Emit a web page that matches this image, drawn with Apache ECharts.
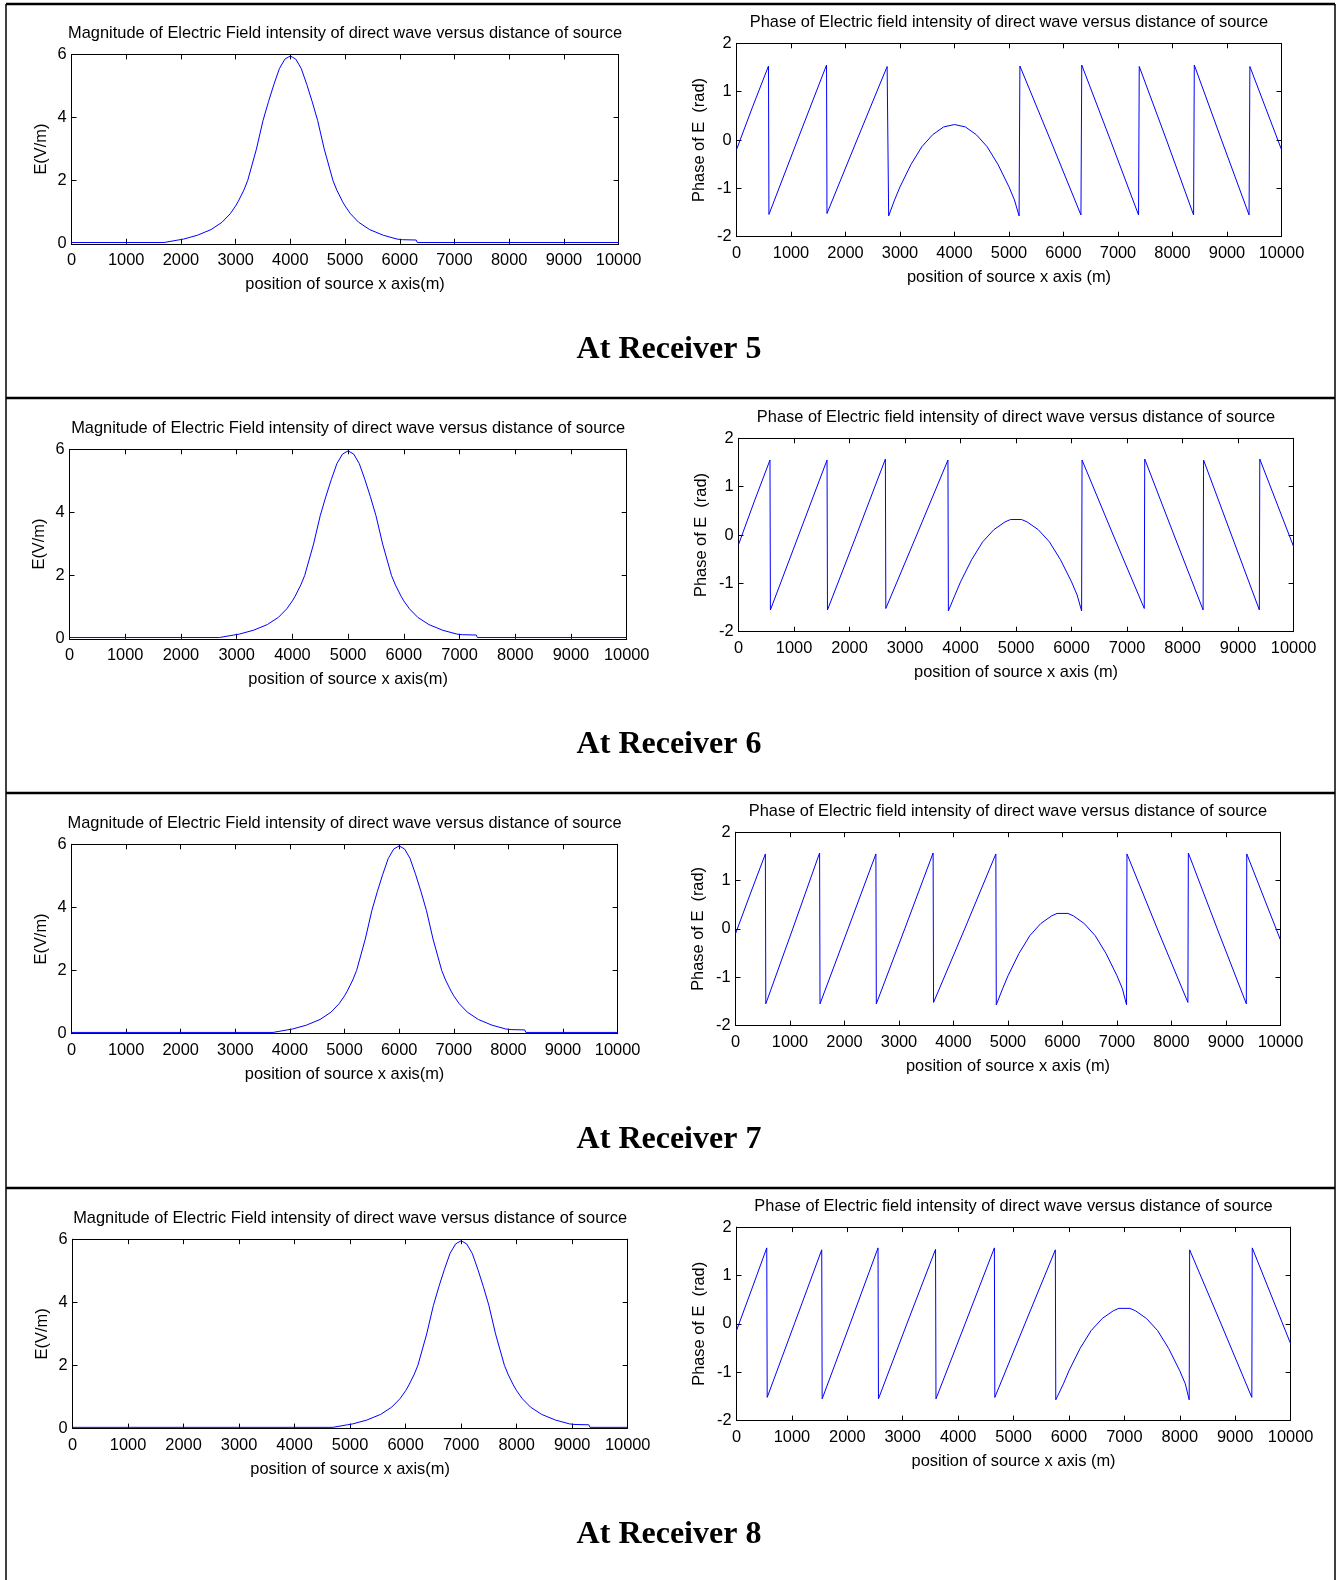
<!DOCTYPE html>
<html>
<head>
<meta charset="utf-8">
<script src="https://cdn.jsdelivr.net/npm/echarts@6/dist/echarts.min.js"></script>
<style>
html, body { margin: 0; padding: 0; background: #fff; }
#main { width: 1339px; height: 1580px; }
</style>
</head>
<body>
<div id="main"></div>
<script>
// receivers shown in the figure, one row each
var receivers = ['5', '6', '7', '8'];

// magnitude of E (V/m) against source position x (m)
var mag5 = [[0,0.04],[1690,0.04],[1710,0.1],[1950,0.12],[2050,0.15],[2300,0.27],[2550,0.45],[2750,0.68],[2900,0.95],[3000,1.2],[3050,1.35],[3150,1.7],[3220,2.0],[3380,3.0],[3500,3.9],[3600,4.5],[3700,5.05],[3800,5.55],[3900,5.85],[4000,5.95],[4100,5.85],[4200,5.55],[4300,5.05],[4400,4.5],[4500,3.9],[4620,3.0],[4780,2.0],[4850,1.7],[4950,1.35],[5000,1.2],[5100,0.95],[5250,0.68],[5450,0.45],[5700,0.27],[5950,0.15],[6050,0.13],[6300,0.12],[6320,0.04],[10000,0.04]];
var mag6 = [[0,0.04],[2690,0.04],[2710,0.1],[2950,0.12],[3050,0.15],[3300,0.27],[3550,0.45],[3750,0.68],[3900,0.95],[4000,1.2],[4050,1.35],[4150,1.7],[4220,2.0],[4380,3.0],[4500,3.9],[4600,4.5],[4700,5.05],[4800,5.55],[4900,5.85],[5000,5.95],[5100,5.85],[5200,5.55],[5300,5.05],[5400,4.5],[5500,3.9],[5620,3.0],[5780,2.0],[5850,1.7],[5950,1.35],[6000,1.2],[6100,0.95],[6250,0.68],[6450,0.45],[6700,0.27],[6950,0.15],[7050,0.13],[7300,0.12],[7320,0.04],[10000,0.04]];
var mag7 = [[0,0.04],[3690,0.04],[3710,0.1],[3950,0.12],[4050,0.15],[4300,0.27],[4550,0.45],[4750,0.68],[4900,0.95],[5000,1.2],[5050,1.35],[5150,1.7],[5220,2.0],[5380,3.0],[5500,3.9],[5600,4.5],[5700,5.05],[5800,5.55],[5900,5.85],[6000,5.95],[6100,5.85],[6200,5.55],[6300,5.05],[6400,4.5],[6500,3.9],[6620,3.0],[6780,2.0],[6850,1.7],[6950,1.35],[7000,1.2],[7100,0.95],[7250,0.68],[7450,0.45],[7700,0.27],[7950,0.15],[8050,0.13],[8300,0.12],[8320,0.04],[10000,0.04]];
var mag8 = [[0,0.04],[4690,0.04],[4710,0.1],[4950,0.12],[5050,0.15],[5300,0.27],[5550,0.45],[5750,0.68],[5900,0.95],[6000,1.2],[6050,1.35],[6150,1.7],[6220,2.0],[6380,3.0],[6500,3.9],[6600,4.5],[6700,5.05],[6800,5.55],[6900,5.85],[7000,5.95],[7100,5.85],[7200,5.55],[7300,5.05],[7400,4.5],[7500,3.9],[7620,3.0],[7780,2.0],[7850,1.7],[7950,1.35],[8000,1.2],[8100,0.95],[8250,0.68],[8450,0.45],[8700,0.27],[8950,0.15],[9050,0.13],[9300,0.12],[9320,0.04],[10000,0.04]];

// phase of E (rad) against source position x (m)
var phase5 = [[0,-0.2],[300,0.7],[587,1.53],[595,-1.54],[1120,0],[1652,1.55],[1660,-1.52],[2210,0],[2764,1.52],[2792,-1.57],[2900,-1.24],[3000,-0.97],[3200,-0.51],[3400,-0.14],[3600,0.11],[3800,0.27],[4000,0.32],[4200,0.27],[4400,0.11],[4600,-0.14],[4800,-0.51],[5000,-0.97],[5100,-1.24],[5185,-1.57],[5200,1.53],[5760,0],[6320,-1.55],[6335,1.55],[6860,0],[7377,-1.55],[7390,1.52],[7890,0],[8387,-1.55],[8400,1.55],[8900,0],[9405,-1.55],[9420,1.52],[10000,-0.2]];
var phase6 = [[0,-0.2],[280,0.68],[567,1.55],[575,-1.55],[1085,0],[1595,1.55],[1603,-1.55],[2125,0],[2646,1.57],[2654,-1.52],[3210,0],[3773,1.55],[3781,-1.57],[3900,-1.24],[4000,-0.97],[4200,-0.51],[4400,-0.14],[4600,0.11],[4800,0.27],[4900,0.32],[5100,0.32],[5200,0.27],[5400,0.11],[5600,-0.14],[5800,-0.51],[6000,-0.97],[6100,-1.24],[6181,-1.57],[6189,1.55],[6750,0],[7310,-1.52],[7318,1.57],[7845,0],[8370,-1.55],[8378,1.55],[8880,0],[9383,-1.55],[9391,1.57],[10000,-0.24]];
var phase7 = [[0,-0.1],[270,0.72],[548,1.55],[556,-1.55],[1050,0],[1543,1.57],[1551,-1.55],[2065,0],[2576,1.55],[2584,-1.55],[3105,0],[3626,1.57],[3634,-1.52],[4205,0],[4777,1.55],[4785,-1.57],[4900,-1.24],[5000,-0.97],[5200,-0.51],[5400,-0.14],[5600,0.11],[5800,0.27],[5900,0.32],[6100,0.32],[6200,0.27],[6400,0.11],[6600,-0.14],[6800,-0.51],[7000,-0.97],[7100,-1.24],[7175,-1.57],[7183,1.55],[7740,0],[8301,-1.52],[8309,1.57],[8840,0],[9373,-1.55],[9381,1.55],[10000,-0.23]];
var phase8 = [[0,-0.14],[270,0.7],[546,1.57],[554,-1.52],[1045,0],[1538,1.53],[1546,-1.55],[2050,0],[2554,1.57],[2562,-1.55],[3075,0],[3592,1.54],[3600,-1.55],[4125,0],[4654,1.57],[4662,-1.52],[5205,0],[5754,1.53],[5762,-1.57],[5900,-1.24],[6000,-0.97],[6200,-0.51],[6400,-0.14],[6600,0.11],[6800,0.27],[6900,0.32],[7100,0.32],[7200,0.27],[7400,0.11],[7600,-0.14],[7800,-0.51],[8000,-0.97],[8100,-1.24],[8170,-1.57],[8178,1.53],[8745,0],[9300,-1.52],[9308,1.57],[10000,-0.41]];

var magData = [mag5, mag6, mag7, mag8];
var phaseData = [phase5, phase6, phase7, phase8];

var magTitle = 'Magnitude of Electric Field intensity of direct wave versus distance of source';
var phaseTitle = 'Phase of Electric field intensity of direct wave versus distance of source';
var magXName = 'position of source x axis(m)';
var phaseXName = 'position of source x axis (m)';
var magYName = 'E(V/m)';
var phaseYName = 'Phase of E  (rad)';

// plot boxes in page pixels: left, top, right, bottom
var boxes = [
	[71.5, 54.4, 618.6, 243.8], [736.5, 43.3, 1281.5, 236.7],
	[69.5, 449.3, 626.7, 638.8], [738.5, 438.3, 1293.6, 631.7],
	[71.5, 844.3, 617.6, 1033.7], [735.5, 832.2, 1280.5, 1025.6],
	[72.5, 1239.2, 627.7, 1428.6], [736.5, 1227.1, 1290.6, 1420.6]
];
var rowLines = [4, 398, 793, 1188];
var captionY = [349.5, 744.5, 1139.5, 1534.4];

var FONT = '"Liberation Sans", Arial, sans-serif';
var FS = 16.4;

var grids = [], xAxes = [], yAxes = [], series = [], graphics = [];

function plain(v) { return String(v); }

for (var i = 0; i < 8; i++) {
	var row = Math.floor(i / 2);
	var isPhase = i % 2 == 1;
	var b = boxes[i];
	grids.push({left: b[0], top: b[1], width: b[2] - b[0], height: b[3] - b[1], show: false, outerBoundsMode: 'none'});

	var tick = {inside: true, length: 5, lineStyle: {color: '#000', width: 1}};
	var line = {onZero: false, lineStyle: {color: '#000', width: 1}};

	xAxes.push({
		gridIndex: i, type: 'value', min: 0, max: 10000, interval: 1000, position: 'bottom',
		axisLine: line, axisTick: tick, splitLine: {show: false},
		axisLabel: {color: '#000', fontFamily: FONT, fontSize: FS, margin: 9, formatter: plain},
		name: isPhase ? phaseXName : magXName, nameLocation: 'middle', nameGap: 33,
		nameTextStyle: {color: '#000', fontFamily: FONT, fontSize: FS}
	});
	xAxes.push({
		gridIndex: i, type: 'value', min: 0, max: 10000, interval: 1000, position: 'top',
		axisLine: line, axisTick: tick, splitLine: {show: false}, axisLabel: {show: false}
	});

	var ymin = isPhase ? -2 : 0, ymax = isPhase ? 2 : 6, yint = isPhase ? 1 : 2;
	yAxes.push({
		gridIndex: i, type: 'value', min: ymin, max: ymax, interval: yint, position: 'left',
		axisLine: line, axisTick: tick, splitLine: {show: false},
		axisLabel: {color: '#000', fontFamily: FONT, fontSize: FS, margin: 5, formatter: plain},
		name: isPhase ? phaseYName : magYName, nameLocation: 'middle', nameGap: isPhase ? 29 : 22,
		nameTextStyle: {color: '#000', fontFamily: FONT, fontSize: FS}
	});
	yAxes.push({
		gridIndex: i, type: 'value', min: ymin, max: ymax, interval: yint, position: 'right',
		axisLine: line, axisTick: tick, splitLine: {show: false}, axisLabel: {show: false}
	});

	series.push({
		type: 'line', xAxisIndex: 2 * i, yAxisIndex: 2 * i,
		data: isPhase ? phaseData[row] : magData[row],
		showSymbol: false, symbol: 'none', silent: true,
		lineStyle: {color: '#0000ff', width: 1}
	});

	graphics.push({
		type: 'text', x: (b[0] + b[2]) / 2, y: b[1] - 21,
		style: {text: isPhase ? phaseTitle : magTitle, fill: '#000', fontFamily: FONT, fontSize: FS,
			textAlign: 'center', textVerticalAlign: 'middle'}
	});
}

// frame of the four rows
for (var r = 0; r < rowLines.length; r++) {
	graphics.push({type: 'line', shape: {x1: 6, y1: rowLines[r], x2: 1335, y2: rowLines[r]},
		style: {stroke: '#000', lineWidth: 2.5}});
	graphics.push({
		type: 'text', x: 669, y: captionY[r],
		style: {text: 'At Receiver ' + receivers[r], fill: '#000', fontFamily: '"Liberation Serif", "Times New Roman", serif',
			fontSize: 32, fontWeight: 'bold', textAlign: 'center', textVerticalAlign: 'middle'}
	});
}
graphics.push({type: 'line', shape: {x1: 6, y1: 4, x2: 6, y2: 1580}, style: {stroke: '#000', lineWidth: 1.5}});
graphics.push({type: 'line', shape: {x1: 1335, y1: 4, x2: 1335, y2: 1580}, style: {stroke: '#000', lineWidth: 1.5}});

var chart = echarts.init(document.getElementById('main'));
chart.setOption({
	animation: false,
	backgroundColor: '#fff',
	grid: grids,
	xAxis: xAxes,
	yAxis: yAxes,
	series: series,
	graphic: graphics
});
</script>
</body>
</html>
